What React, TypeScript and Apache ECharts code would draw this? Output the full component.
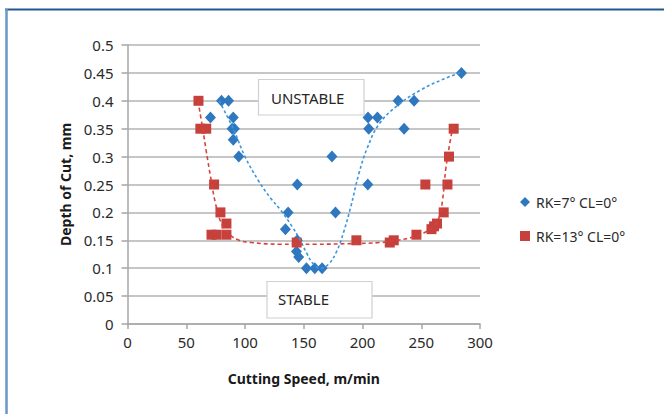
import React, { useEffect, useRef } from "react";
import * as echarts from "echarts";

// Cutting speed (m/min) vs depth of cut (mm)
const rk7Speed = [70.6, 80, 86, 90, 89, 91, 90, 94.7, 144.5, 136.7, 134.4, 144.5, 143.8, 145.7, 152.3, 159.4, 165.6, 177, 174, 204.5, 204.7, 212.7, 205.3, 230.3, 243.9, 235.4, 284.2];
const rk7Depth = [0.37, 0.4, 0.4, 0.37, 0.35, 0.35, 0.33, 0.3, 0.25, 0.2, 0.17, 0.15, 0.13, 0.12, 0.1, 0.1, 0.1, 0.2, 0.3, 0.25, 0.37, 0.37, 0.35, 0.4, 0.4, 0.35, 0.45];

const rk13Speed = [60.4, 62, 67, 73.7, 79.1, 84.2, 71.5, 75.7, 84.2, 144, 194.8, 223.2, 226.6, 245.9, 258.7, 260.9, 263.4, 269.1, 253.5, 272.3, 273.6, 277.6];
const rk13Depth = [0.4, 0.35, 0.35, 0.25, 0.2, 0.18, 0.16, 0.16, 0.16, 0.146, 0.15, 0.146, 0.15, 0.16, 0.17, 0.175, 0.18, 0.2, 0.25, 0.25, 0.3, 0.35];

// Trend lines
const rk7TrendSpeed = [78, 90, 100, 112, 122, 130, 140, 147, 153, 158, 164, 171, 178, 184, 190, 197, 204, 214, 230, 250, 268, 284];
const rk7TrendDepth = [0.4, 0.35, 0.3, 0.255, 0.225, 0.205, 0.175, 0.15, 0.125, 0.108, 0.1, 0.107, 0.13, 0.165, 0.21, 0.27, 0.315, 0.358, 0.392, 0.42, 0.438, 0.451];
const rk13TrendSpeed = [60, 64, 67, 71, 75, 80, 87, 95, 105, 130, 160, 190, 215, 230, 243, 252, 260, 265, 268, 271, 274, 277.5];
const rk13TrendDepth = [0.4, 0.35, 0.31, 0.26, 0.215, 0.18, 0.16, 0.15, 0.146, 0.143, 0.143, 0.144, 0.146, 0.15, 0.156, 0.163, 0.174, 0.19, 0.22, 0.28, 0.32, 0.36];

const seriesNames = ["RK=7° CL=0°", "RK=13° CL=0°"];
const xTicks = { min: 0, max: 300, interval: 50 };
const yTicks = { min: 0, max: 0.5, interval: 0.05 };

const zip = (a: number[], b: number[]) => a.map((v, i) => [v, b[i]]);

const BLUE = "#2f78bf";
const RED = "#c6403c";
const FONT = "'Noto Sans', sans-serif";

export default function App() {
  const ref = useRef<HTMLDivElement>(null);
  useEffect(() => {
    document.body.style.margin = "0";
    const chart = echarts.init(ref.current!, undefined, { renderer: "svg" });
    chart.setOption({
      animation: false,
      backgroundColor: "#ffffff",
      textStyle: { fontFamily: FONT },
      grid: { left: 127.5, right: 184, top: 45, bottom: 90, containLabel: false },
      xAxis: {
        type: "value",
        min: xTicks.min,
        max: xTicks.max,
        interval: xTicks.interval,
        name: "Cutting Speed, m/min",
        nameLocation: "middle",
        nameGap: 47,
        nameTextStyle: { fontFamily: FONT, fontSize: 14, fontWeight: "bold", color: "#1a1a1a" },
        axisLine: { show: true, lineStyle: { color: "#a6a6a6", width: 1.5 } },
        axisTick: { show: true, length: 5, lineStyle: { color: "#a6a6a6", width: 1.5 } },
        axisLabel: { margin: 10, fontFamily: FONT, fontSize: 15, color: "#2a2a2a" },
        splitLine: { show: false },
      },
      yAxis: {
        type: "value",
        min: yTicks.min,
        max: yTicks.max,
        interval: yTicks.interval,
        name: "Depth of Cut, mm",
        nameLocation: "middle",
        nameGap: 52,
        nameTextStyle: { fontFamily: FONT, fontSize: 14, fontWeight: "bold", color: "#1a1a1a" },
        axisLine: { show: true, lineStyle: { color: "#a6a6a6", width: 1.5 } },
        axisTick: { show: true, length: 6, lineStyle: { color: "#a6a6a6", width: 1.5 } },
        axisLabel: {
          margin: 14,
          fontFamily: FONT,
          fontSize: 15,
          color: "#2a2a2a",
          formatter: (v: number) => String(+v.toFixed(2)),
        },
        splitLine: { show: true, lineStyle: { color: "#b3b3b3", width: 1.5 } },
      },
      legend: {
        orient: "vertical",
        left: 515,
        top: 190,
        itemWidth: 10,
        itemHeight: 10,
        itemGap: 20,
        data: [
          { name: seriesNames[0], icon: "diamond" },
          { name: seriesNames[1], icon: "rect" },
        ],
        textStyle: { fontFamily: FONT, fontSize: 14, color: "#2a2a2a", padding: [0, 0, 0, 1] },
      },
      graphic: [
        { type: "line", shape: { x1: 5, y1: 9.5, x2: 664, y2: 9.5 }, style: { stroke: "#24568f", lineWidth: 2 }, z: 100 },
        { type: "line", shape: { x1: 6.5, y1: 9, x2: 6.5, y2: 414 }, style: { stroke: "#6a96c8", lineWidth: 2.5 }, z: 100 },
        { type: "rect", z: 100, shape: { x: 258.5, y: 79.5, width: 105.5, height: 35.5 }, style: { fill: "#ffffff", stroke: "#d0d0d0", lineWidth: 1.2 } },
        { type: "text", z: 101, x: 271, y: 97.5, style: { text: "UNSTABLE", fill: "#262626", fontSize: 15, fontFamily: FONT, verticalAlign: "middle", align: "left" } },
        { type: "rect", z: 100, shape: { x: 267, y: 281.5, width: 105, height: 36.5 }, style: { fill: "#ffffff", stroke: "#d0d0d0", lineWidth: 1.2 } },
        { type: "text", z: 101, x: 278, y: 299, style: { text: "STABLE", fill: "#262626", fontSize: 15, fontFamily: FONT, verticalAlign: "middle", align: "left" } },
      ],
      series: [
        {
          name: seriesNames[0],
          type: "scatter",
          symbol: "diamond",
          symbolSize: [11, 12],
          itemStyle: { color: BLUE, opacity: 1 },
          data: zip(rk7Speed, rk7Depth),
          z: 2,
        },
        {
          name: seriesNames[1],
          type: "scatter",
          symbol: "rect",
          symbolSize: 10,
          itemStyle: { color: RED, opacity: 1 },
          data: zip(rk13Speed, rk13Depth),
          z: 3,
        },
        {
          name: "rk7 trend",
          type: "line",
          smooth: 0.4,
          showSymbol: false,
          silent: true,
          lineStyle: { color: "#3a96dd", width: 1.6, type: [3, 2.5] },
          data: zip(rk7TrendSpeed, rk7TrendDepth),
          z: 4,
        },
        {
          name: "rk13 trend",
          type: "line",
          smooth: 0.4,
          showSymbol: false,
          silent: true,
          lineStyle: { color: "#d9413d", width: 1.6, type: [4, 3] },
          data: zip(rk13TrendSpeed, rk13TrendDepth),
          z: 4,
        },
      ],
    });
    return () => chart.dispose();
  }, []);
  return <div ref={ref} style={{ position: "absolute", left: 0, top: 0, width: 664, height: 414 }} />;
}
